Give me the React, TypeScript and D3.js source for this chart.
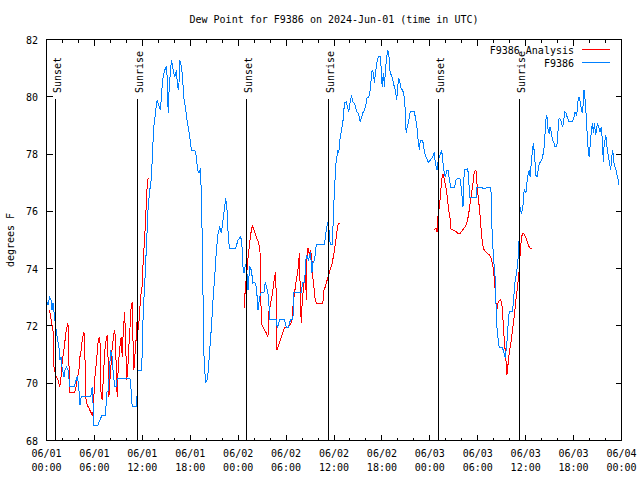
import React from 'react';
import * as d3 from 'd3';

// Time in hours since 2024-06-01 00:00 UTC, dew point in °F
const observed: number[][] = [
  [0.0,72.90],[0.19,72.73],[0.38,73.01],[0.56,72.91],[0.69,72.56],[0.81,72.80],[1.02,72.31],[1.15,71.96],[1.35,71.58],[1.56,71.26],[1.69,70.81],[1.81,70.92],[1.94,70.57],[2.19,70.22],[2.31,70.46],[2.52,70.57],[2.69,70.46],[2.94,69.87],[3.44,69.87],[3.63,70.04],[3.85,70.22],[4.0,70.01],[4.19,69.24],[4.35,69.52],[5.53,69.52],[5.73,69.87],[5.81,69.41],[5.94,68.54],[6.44,68.54],[6.69,68.72],[6.98,68.89],[7.4,68.89],[7.53,69.66],[7.75,69.76],[8.03,71.16],[8.23,70.92],[8.35,70.36],[8.56,69.87],[8.75,69.87],[8.85,70.18],[10.44,70.18],[10.6,69.76],[10.73,69.17],[11.23,69.17],[11.35,69.59],[11.38,70.46],[11.88,70.46],[12.03,71.26],[12.1,72.45],[12.31,73.50],[12.53,74.90],[12.73,76.15],[12.94,76.75],[13.15,77.20],[13.28,78.14],[13.44,78.95],[13.69,79.54],[13.85,79.89],[14.06,79.71],[14.28,79.54],[14.4,80.13],[14.6,80.69],[14.81,80.94],[15.0,81.04],[15.15,80.59],[15.23,79.43],[15.35,80.24],[15.53,80.94],[15.65,81.28],[15.85,80.94],[16.06,80.69],[16.28,80.94],[16.4,80.34],[16.56,80.24],[16.69,81.28],[16.9,81.04],[17.03,80.69],[17.19,79.99],[17.44,79.54],[17.6,79.19],[17.73,78.95],[17.94,78.60],[18.15,78.14],[18.56,78.14],[18.78,77.90],[18.9,77.44],[19.1,77.34],[19.28,77.51],[19.4,76.50],[19.53,74.55],[19.69,71.16],[19.81,70.46],[19.94,70.01],[20.1,70.11],[20.23,70.36],[20.44,71.16],[20.65,71.96],[20.85,72.91],[21.06,73.71],[21.28,74.65],[21.48,75.24],[21.69,75.45],[21.9,75.24],[22.1,75.70],[22.31,76.15],[22.44,76.47],[22.6,76.05],[22.78,75.00],[22.94,74.72],[23.69,74.72],[23.98,75.00],[24.28,75.10],[24.44,75.00],[24.6,74.06],[24.73,73.85],[24.9,74.13],[25.06,74.02],[25.23,73.25],[25.44,74.06],[25.65,73.95],[25.85,73.50],[26.06,73.53],[26.28,73.36],[26.4,72.91],[26.48,72.56],[26.69,73.01],[26.9,73.18],[27.23,73.18],[27.4,73.53],[27.65,73.25],[27.81,73.01],[27.94,72.21],[28.78,72.21],[28.9,71.93],[29.19,72.21],[29.81,72.21],[30.03,71.96],[30.23,71.93],[30.56,72.21],[30.85,72.21],[30.98,73.18],[31.9,73.18],[32.1,73.53],[32.31,73.53],[32.53,74.48],[32.81,74.30],[33.06,74.58],[33.23,73.85],[33.35,74.20],[33.56,74.30],[33.78,74.83],[34.81,74.83],[35.03,75.35],[35.23,75.63],[35.38,75.35],[35.53,74.83],[35.81,74.83],[35.94,76.15],[36.06,76.64],[36.19,77.55],[36.35,77.90],[36.48,78.14],[36.6,78.04],[36.78,78.60],[36.9,78.77],[37.1,79.08],[37.31,79.78],[37.53,79.82],[37.73,79.61],[37.85,79.47],[38.03,79.82],[38.19,80.06],[38.35,79.82],[38.56,79.78],[38.85,79.47],[39.06,79.43],[39.28,79.12],[39.44,79.26],[39.6,79.43],[39.81,79.54],[40.03,79.78],[40.15,79.99],[40.35,79.96],[40.53,80.24],[40.65,80.59],[40.78,80.94],[40.94,80.83],[41.06,80.48],[41.19,80.83],[41.35,81.18],[41.53,81.39],[41.78,81.39],[41.9,81.04],[42.03,80.34],[42.19,80.83],[42.31,80.34],[42.44,80.94],[42.6,81.39],[42.73,81.63],[42.85,81.53],[43.03,80.83],[43.19,80.76],[43.35,80.59],[43.56,80.34],[43.69,80.24],[43.85,79.89],[43.98,80.34],[44.1,80.66],[44.28,80.48],[44.44,80.24],[44.6,80.24],[44.81,79.96],[44.94,79.47],[45.03,78.74],[45.23,79.02],[45.38,79.19],[45.53,79.47],[46.06,79.47],[46.25,79.19],[46.4,78.91],[46.53,78.49],[46.69,78.14],[46.81,78.49],[47.1,78.49],[47.23,78.25],[47.35,78.04],[47.53,77.90],[47.81,77.72],[48.06,77.79],[48.35,77.90],[48.56,78.07],[48.69,77.69],[48.9,77.44],[49.06,77.79],[49.28,77.97],[49.48,78.14],[49.65,77.69],[49.81,77.34],[49.94,77.20],[50.15,77.44],[50.31,77.44],[50.44,77.09],[50.65,76.82],[51.06,76.82],[51.28,77.09],[51.48,77.16],[51.81,77.13],[51.98,76.68],[52.15,76.15],[52.31,77.44],[52.73,77.48],[52.85,77.27],[52.98,76.50],[53.48,76.47],[53.78,76.47],[53.9,76.82],[54.6,76.82],[54.75,76.78],[55.03,76.82],[55.65,76.82],[55.73,75.70],[55.98,74.30],[56.15,73.85],[56.28,72.80],[56.4,71.96],[56.56,71.51],[56.69,71.23],[57.1,71.23],[57.31,71.05],[57.44,70.88],[57.65,71.40],[57.81,72.10],[57.94,72.49],[58.35,72.49],[58.48,72.91],[58.65,73.50],[58.78,73.71],[58.98,74.13],[59.1,74.55],[59.19,75.10],[59.31,76.15],[59.44,75.94],[59.6,76.05],[59.69,76.29],[59.81,76.75],[60.03,76.64],[60.23,77.20],[60.44,77.44],[60.56,77.20],[60.73,77.79],[60.85,78.14],[60.98,78.39],[61.15,77.79],[61.31,77.20],[61.48,77.20],[61.6,77.55],[61.81,77.72],[61.98,77.79],[62.13,77.90],[62.31,78.25],[62.4,78.60],[62.53,79.19],[62.65,79.36],[62.81,78.84],[62.94,78.74],[63.06,78.95],[63.23,78.74],[63.35,78.49],[63.56,78.39],[63.69,78.25],[63.9,78.25],[63.98,78.60],[64.1,78.95],[64.19,79.26],[64.4,79.19],[64.6,78.95],[64.73,79.08],[64.9,79.47],[65.06,79.43],[65.23,79.26],[65.44,79.12],[65.85,79.12],[66.06,79.29],[66.19,79.47],[66.4,79.36],[66.56,79.89],[66.69,79.99],[66.88,79.78],[66.98,79.54],[67.13,79.43],[67.23,79.89],[67.31,80.24],[67.44,79.89],[67.56,79.43],[67.65,78.95],[67.81,78.25],[67.94,77.90],[68.06,78.25],[68.23,78.84],[68.35,79.08],[68.48,78.74],[68.6,79.08],[68.78,78.67],[68.98,79.08],[69.13,78.95],[69.31,78.77],[69.48,78.95],[69.6,78.49],[69.73,77.72],[69.81,78.25],[70.03,78.67],[70.23,78.14],[70.44,77.79],[70.65,77.44],[70.78,77.90],[70.9,78.14],[71.06,77.69],[71.19,77.55],[71.31,77.44],[71.48,77.20],[71.6,77.09],[71.69,76.92]
];

const analysisDay1: number[][] = [
  [0.38,72.56],[0.85,71.75],[0.94,70.57],[1.15,70.29],[1.44,70.11],[1.65,69.87],[1.81,70.18],[1.9,70.57],[2.06,70.92],[2.28,71.40],[2.48,71.86],[2.69,72.10],[2.81,70.71],[2.9,69.66],[3.44,69.66],[3.63,69.76],[3.85,70.11],[4.06,70.46],[4.19,70.92],[4.35,71.16],[4.48,71.51],[4.69,71.79],[4.79,71.33],[4.9,69.52],[5.1,69.24],[5.31,69.13],[5.53,69.00],[5.73,68.89],[5.85,69.00],[6.03,70.11],[6.19,70.57],[6.35,71.05],[6.48,71.51],[6.69,71.61],[6.78,69.76],[6.98,69.41],[7.1,70.11],[7.28,71.05],[7.4,71.40],[7.6,71.68],[7.73,70.71],[7.81,69.52],[7.94,70.11],[8.1,70.71],[8.23,71.26],[8.44,71.75],[8.56,71.86],[8.69,70.92],[8.85,69.52],[8.98,70.57],[9.19,71.26],[9.35,71.61],[9.48,70.92],[9.6,71.75],[9.78,72.49],[9.9,71.61],[10.03,70.11],[10.15,70.36],[10.31,71.26],[10.44,71.86],[10.6,72.66],[10.73,72.84],[10.85,71.26],[10.94,70.46],[11.06,70.92],[11.19,71.40],[11.35,72.21],[11.48,71.86],[11.6,72.21],[11.78,73.01],[11.9,73.25],[12.03,73.50],[12.1,74.30],[12.28,75.00],[12.44,75.94],[12.6,76.85],[12.73,77.16],[12.88,77.16]
];

const analysisDay2: number[][] = [
  [24.73,72.63],[24.81,72.97],[25.03,73.71],[25.23,74.37],[25.44,74.90],[25.65,75.35],[25.78,75.49],[26.0,75.35],[26.28,75.10],[26.56,74.90],[26.73,74.65],[26.81,73.50],[26.9,72.10],[27.1,71.96],[27.31,71.86],[27.53,71.75],[27.73,71.61],[27.81,72.45],[27.98,72.66],[28.15,72.91],[28.35,73.25],[28.56,73.71],[28.69,73.88],[28.78,72.91],[28.85,71.16],[28.98,71.26],[29.19,71.44],[29.4,71.61],[29.6,71.79],[29.81,71.93],[30.23,71.96],[30.44,72.03],[30.73,72.14],[30.85,72.66],[31.06,73.15],[31.28,73.60],[31.48,73.95],[31.6,74.30],[31.69,74.55],[31.78,72.91],[31.9,72.10],[32.03,72.91],[32.15,73.25],[32.31,73.71],[32.44,73.85],[32.53,72.91],[32.6,74.41],[32.73,74.72],[32.94,74.48],[33.06,74.65],[33.23,74.37],[33.35,73.71],[33.48,73.36],[33.65,72.91],[33.78,72.80],[34.19,72.80],[34.6,72.80],[34.73,73.25],[34.9,73.36],[35.06,73.53],[35.23,73.67],[35.44,73.88],[35.78,74.20],[36.06,74.65],[36.28,75.10],[36.48,75.52],[36.6,75.59],[36.81,75.59]
];

const analysisDay3: number[][] = [
  [48.56,75.35],[48.78,75.42],[48.9,75.28],[48.98,75.77],[49.19,76.15],[49.31,76.50],[49.48,77.09],[49.6,77.27],[49.73,77.27],[49.81,77.09],[50.03,76.82],[50.23,76.40],[50.35,76.05],[50.53,75.77],[50.65,75.38],[50.85,75.35],[51.19,75.31],[51.48,75.24],[51.81,75.24],[52.1,75.35],[52.31,75.42],[52.53,75.52],[52.73,75.70],[52.94,76.05],[53.15,76.50],[53.35,76.85],[53.56,77.37],[53.78,77.44],[53.9,76.99],[54.06,76.50],[54.23,76.05],[54.4,75.45],[54.6,74.83],[54.81,74.65],[55.15,74.55],[55.44,74.48],[55.65,74.37],[55.81,74.20],[55.98,73.95],[56.15,73.36],[56.28,72.80],[56.4,72.56],[56.56,72.84],[56.81,72.91],[56.98,72.84],[57.1,72.56],[57.23,71.86],[57.4,71.26],[57.53,70.81],[57.65,70.29],[57.81,70.71],[57.94,71.05],[58.15,71.40],[58.35,71.86],[58.56,72.31],[58.78,72.91],[58.98,73.36],[59.19,73.95],[59.31,74.55],[59.48,75.10],[59.6,75.21],[59.81,75.21],[60.03,75.07],[60.23,74.90],[60.44,74.76],[60.65,74.69],[60.75,74.69]
];

const sunHours = [1.1, 11.35, 25.1, 35.28, 49.1, 59.23];
const sunLabels = ['Sunset', 'Sunrise', 'Sunset', 'Sunrise', 'Sunset', 'Sunrise'];

const yTickValues = [68, 70, 72, 74, 76, 78, 80, 82];
const xTickHours = [0, 6, 12, 18, 24, 30, 36, 42, 48, 54, 60, 66, 72];
const xTickDates = ['06/01', '06/01', '06/01', '06/01', '06/02', '06/02', '06/02', '06/02', '06/03', '06/03', '06/03', '06/03', '06/04'];
const xTickTimes = ['00:00', '06:00', '12:00', '18:00', '00:00', '06:00', '12:00', '18:00', '00:00', '06:00', '12:00', '18:00', '00:00'];
const minorHours = d3.range(0, 73, 2);

const titleText = 'Dew Point for F9386 on 2024-Jun-01 (time in UTC)';
const yLabel = 'degrees F';
const seriesNames = ['F9386 Analysis', 'F9386'];

const RED = '#ff0000';
const BLUE = '#0080ff';
const FONT = "'DejaVu Sans Mono', 'Liberation Mono', monospace";

export default function App() {
  const x = d3.scaleLinear().domain([0, 72]).range([46.5, 621.5]);
  const y = d3.scaleLinear().domain([68, 82]).range([440.5, 39.5]);
  const line = d3.line<number[]>().x(d => x(d[0])).y(d => y(d[1]));
  const left = x(0), right = x(72), top = y(82), bottom = y(68);
  const px = (v: number) => Math.round(v - 0.5) + 0.5;

  return (
    <svg width={640} height={480} style={{ position: 'absolute', left: 0, top: 0, background: '#fff' }}
      fontFamily={FONT} fontSize={10}>
      <rect x={0} y={0} width={640} height={480} fill="#fff" />
      <text x={(left + right) / 2} y={23} textAnchor="middle" fill="#000">{titleText}</text>
      <text transform={`translate(14,240) rotate(-90)`} textAnchor="middle" fill="#000">{yLabel}</text>

      {/* ticks */}
      <g stroke="#000" strokeWidth={1} shapeRendering="crispEdges">
        {minorHours.map(h => {
          const len = h % 6 === 0 ? 6 : 3;
          const xx = px(x(h));
          return (
            <g key={'xt' + h}>
              <line x1={xx} x2={xx} y1={bottom} y2={bottom - len} />
              <line x1={xx} x2={xx} y1={top} y2={top + len} />
            </g>
          );
        })}
        {yTickValues.map(v => {
          const yy = px(y(v));
          return (
            <g key={'yt' + v}>
              <line x1={left} x2={left + 6} y1={yy} y2={yy} />
              <line x1={right} x2={right - 6} y1={yy} y2={yy} />
            </g>
          );
        })}
      </g>

      {yTickValues.map(v => (
        <text key={'yl' + v} x={38} y={y(v) + 4} textAnchor="end" fill="#000">{v}</text>
      ))}
      {xTickHours.map((h, i) => (
        <g key={'xl' + h}>
          <text x={x(h)} y={457} textAnchor="middle" fill="#000">{xTickDates[i]}</text>
          <text x={x(h)} y={471} textAnchor="middle" fill="#000">{xTickTimes[i]}</text>
        </g>
      ))}

      {/* data */}
      <g fill="none" strokeWidth={1} shapeRendering="crispEdges">
        <path d={line(analysisDay1) || ''} stroke={RED} />
        <path d={line(analysisDay2) || ''} stroke={RED} />
        <path d={line(analysisDay3) || ''} stroke={RED} />
        <path d={line(observed) || ''} stroke={BLUE} />
      </g>

      {/* sunrise / sunset markers */}
      {sunHours.map((h, i) => {
        const xx = px(x(h));
        return (
          <g key={'sun' + i}>
            <line x1={xx} x2={xx} y1={99} y2={bottom} stroke="#000" strokeWidth={1} shapeRendering="crispEdges" />
            <text transform={`translate(${xx + 5.5},93) rotate(-90)`} textAnchor="start" fill="#000">{sunLabels[i]}</text>
          </g>
        );
      })}

      {/* legend */}
      <text x={574} y={54} textAnchor="end" fill="#000">{seriesNames[0]}</text>
      <line x1={582} x2={610} y1={49.5} y2={49.5} stroke={RED} strokeWidth={1} shapeRendering="crispEdges" />
      <text x={574} y={67} textAnchor="end" fill="#000">{seriesNames[1]}</text>
      <line x1={582} x2={610} y1={62.5} y2={62.5} stroke={BLUE} strokeWidth={1} shapeRendering="crispEdges" />

      {/* border */}
      <rect x={left} y={top} width={right - left} height={bottom - top} fill="none" stroke="#000" strokeWidth={1} shapeRendering="crispEdges" />
    </svg>
  );
}
